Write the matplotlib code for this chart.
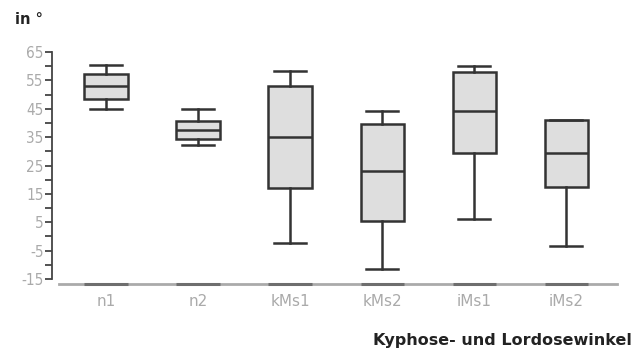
import matplotlib.pyplot as plt
from matplotlib.transforms import blended_transform_factory

plt.rcParams['axes.unicode_minus'] = False

# box statistics (degrees)
groups = ['n1', 'n2', 'kMs1', 'kMs2', 'iMs1', 'iMs2']
mins = [45.0, 32.1, -2.4, -11.3, 6.1, -3.2]
q1s = [48.3, 34.3, 17.2, 5.5, 29.5, 17.5]
medians = [53.1, 37.5, 35.2, 22.9, 44.1, 29.4]
q3s = [57.3, 40.8, 53.0, 39.8, 57.9, 41.1]
maxs = [60.4, 45.0, 58.4, 44.3, 60.2, 41.1]

y_ticks = list(range(-15, 66, 10))

stats = []
for g, lo, a, m, b, hi in zip(groups, mins, q1s, medians, q3s, maxs):
    stats.append({'label': g, 'whislo': lo, 'q1': a, 'med': m, 'q3': b, 'whishi': hi})

positions = list(range(1, len(groups) + 1))
box_w = 0.47

fig = plt.figure(figsize=(6.42, 3.53), dpi=100)
ax = fig.add_axes([59 / 642, 1 - 284 / 353, 558 / 642, 232 / 353])

line = dict(color='#333333', linewidth=1.8)
boxes = ax.bxp(stats, positions=positions, widths=box_w, patch_artist=True,
               showfliers=False, boxprops=dict(facecolor='#dedede', edgecolor='#333333', linewidth=1.8),
               whiskerprops=line, capprops=line, medianprops=line)
for cap in boxes['caps']:
    x0, x1 = cap.get_xdata()
    c = (x0 + x1) / 2
    cap.set_xdata([c - 0.175, c + 0.175])

ax.set_xlim(0.49, 6.55)
ax.set_ylim(-16.76, 65)

# axes styling
for s in ['top', 'right']:
    ax.spines[s].set_visible(False)
ax.spines['left'].set_position(('outward', 5))
ax.spines['left'].set_bounds(-15, 65)
ax.spines['left'].set_color('#444444')
ax.spines['left'].set_linewidth(1.3)
ax.spines['bottom'].set_color('#aaaaaa')
ax.spines['bottom'].set_linewidth(2)

# darker segments on the base line under each box
trans = blended_transform_factory(ax.transData, ax.transAxes)
for p in positions:
    ax.plot([p - box_w / 2, p + box_w / 2], [0, 0], color='#6e6e6e', linewidth=2.2,
            transform=trans, clip_on=False, solid_capstyle='butt', zorder=5)

ax.set_yticks(y_ticks)
ax.set_yticks(range(-10, 65, 10), minor=True)
ax.tick_params(axis='y', which='both', length=5, width=1.3, color='#444444',
               labelcolor='#aaaaaa', labelsize=11, pad=1)
ax.set_xticks(positions)
ax.set_xticklabels(groups)
ax.tick_params(axis='x', length=0, labelcolor='#aaaaaa', labelsize=11, pad=7)
for lab in ax.get_yticklabels():
    lab.set_fontstretch('condensed')

fig.text(15 / 642, 1 - 20 / 353, 'in °', fontsize=10.5, fontweight='bold', color='#222222',
         va='center', ha='left')
fig.text(632 / 642, 1 - 340 / 353, 'Kyphose- und Lordosewinkel', fontsize=11.5, fontweight='bold',
         color='#222222', va='center', ha='right')

fig.savefig('out.png', dpi=100)
